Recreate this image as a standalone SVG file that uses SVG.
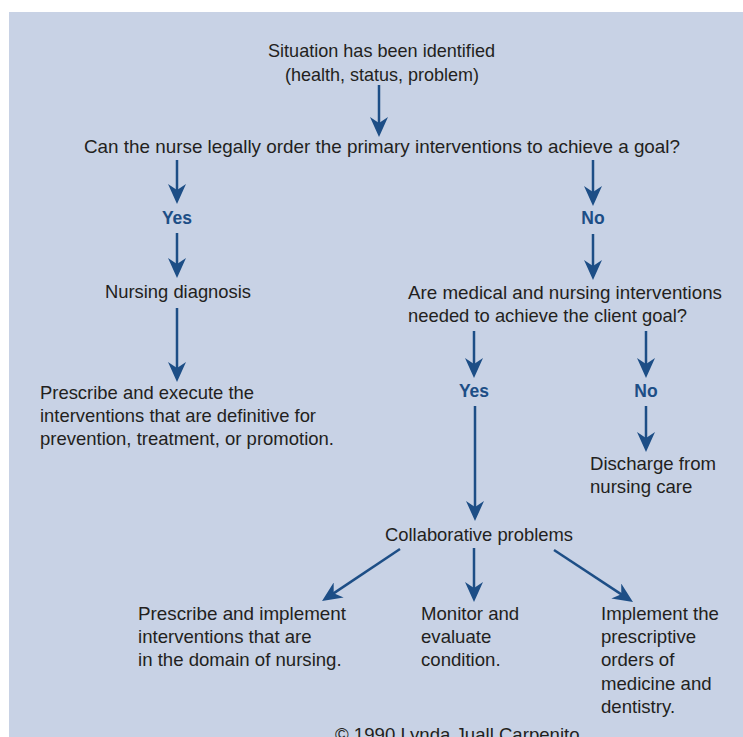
<svg xmlns="http://www.w3.org/2000/svg" width="743" height="737" viewBox="0 0 743 737">
<style>
.t{font-family:"Liberation Sans",Arial,Helvetica,sans-serif;font-size:18.6px;fill:#231f20}
.c{text-anchor:middle}
.yn{font-family:"Liberation Sans",Arial,Helvetica,sans-serif;font-size:17.5px;font-weight:bold;fill:#1d4e86;text-anchor:middle}
.a{stroke:#1d4e86;stroke-width:2.5;fill:none;marker-end:url(#ah)}
</style>
<defs>
<marker id="ah" viewBox="0 0 20 18" refX="12" refY="9" markerWidth="20" markerHeight="18" markerUnits="userSpaceOnUse" orient="auto">
<path d="M0,0 L20,9 L0,18 L6,9 Z" fill="#1d4e86"/>
</marker>
</defs>
<rect x="0" y="0" width="743" height="737" fill="#ffffff"/>
<rect x="9" y="12" width="734" height="725" fill="#c8d2e5"/>
<g id="connectors">
<line class="a" x1="379" y1="85" x2="379" y2="129"/>
<line class="a" x1="177" y1="160" x2="177" y2="196"/>
<line class="a" x1="177" y1="233" x2="177" y2="270"/>
<line class="a" x1="593" y1="160" x2="593" y2="198"/>
<line class="a" x1="593" y1="234" x2="593" y2="272"/>
<line class="a" x1="177" y1="308" x2="177" y2="374"/>
<line class="a" x1="474" y1="331" x2="474" y2="370"/>
<line class="a" x1="646" y1="331" x2="646" y2="370"/>
<line class="a" x1="646" y1="406" x2="646" y2="444"/>
<line class="a" x1="475" y1="406" x2="475" y2="513"/>
<line class="a" x1="400" y1="549" x2="328.7" y2="596.6"/>
<line class="a" x1="474" y1="548" x2="474" y2="594"/>
<line class="a" x1="554" y1="550" x2="626.3" y2="597.6"/>
</g>
<g id="situation"><text class="t" x="268" y="56.5" textLength="227" lengthAdjust="spacingAndGlyphs">Situation has been identified</text><text class="t" x="285" y="80.5" textLength="194" lengthAdjust="spacingAndGlyphs">(health, status, problem)</text></g>
<g id="question1"><text class="t" x="84" y="152.5" textLength="596" lengthAdjust="spacingAndGlyphs">Can the nurse legally order the primary interventions to achieve a goal?</text></g>
<g id="yes1"><text class="yn" x="177" y="224">Yes</text></g>
<g id="no1"><text class="yn" x="593" y="224">No</text></g>
<g id="nursing-diagnosis"><text class="t" x="105" y="297.5" textLength="146" lengthAdjust="spacingAndGlyphs">Nursing diagnosis</text></g>
<g id="prescribe-execute"><text class="t" x="40" y="399" textLength="214" lengthAdjust="spacingAndGlyphs">Prescribe and execute the</text><text class="t" x="40" y="422" textLength="276" lengthAdjust="spacingAndGlyphs">interventions that are definitive for</text><text class="t" x="40" y="445" textLength="294" lengthAdjust="spacingAndGlyphs">prevention, treatment, or promotion.</text></g>
<g id="question2"><text class="t" x="408" y="299" textLength="314" lengthAdjust="spacingAndGlyphs">Are medical and nursing interventions</text><text class="t" x="408" y="321.5" textLength="279" lengthAdjust="spacingAndGlyphs">needed to achieve the client goal?</text></g>
<g id="yes2"><text class="yn" x="474" y="397">Yes</text></g>
<g id="no2"><text class="yn" x="646" y="397">No</text></g>
<g id="discharge"><text class="t" x="590" y="470">Discharge from</text><text class="t" x="590" y="493">nursing care</text></g>
<g id="collaborative"><text class="t" x="385" y="541" textLength="188" lengthAdjust="spacingAndGlyphs">Collaborative problems</text></g>
<g id="prescribe-implement"><text class="t" x="138" y="620" textLength="208" lengthAdjust="spacingAndGlyphs">Prescribe and implement</text><text class="t" x="138" y="643">interventions that are</text><text class="t" x="138" y="666">in the domain of nursing.</text></g>
<g id="monitor"><text class="t" x="421" y="620">Monitor and</text><text class="t" x="421" y="643">evaluate</text><text class="t" x="421" y="666">condition.</text></g>
<g id="implement-orders"><text class="t" x="601" y="620">Implement the</text><text class="t" x="601" y="643">prescriptive</text><text class="t" x="601" y="666">orders of</text><text class="t" x="601" y="690">medicine and</text><text class="t" x="601" y="713">dentistry.</text></g>
<g id="copyright"><text class="t" x="335" y="740.5">© 1990 Lynda Juall Carpenito</text></g>
</svg>
